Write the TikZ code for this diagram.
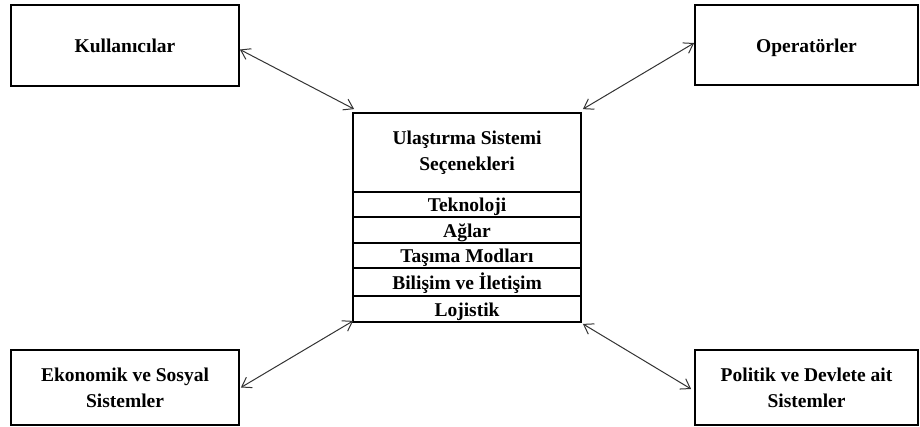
\documentclass[tikz,border=0pt]{standalone}
\usepackage{fontspec}
\setmainfont{Liberation Serif}
\usetikzlibrary{arrows.meta}
\tikzset{
  box/.style={draw=black, line width=1.8pt, fill=white, inner sep=0pt, align=center,
    font=\fontsize{19.5}{26}\selectfont\bfseries},
  oneline/.style={text height=14pt, text depth=0pt},
  twoline/.style={text height=40pt, text depth=0pt},
  conn/.style={draw=black!80, line width=1pt, {Straight Barb[length=9pt,width=12pt]}-{Straight Barb[length=9pt,width=12pt]}}
}
\begin{document}
\begin{tikzpicture}[x=1pt,y=-1pt]
\useasboundingbox (0,0) rectangle (920,426);
% outer boxes
\node[box, oneline, minimum width=228pt, minimum height=81pt] (kul) at (125,45.5) {Kullanıcılar};
\node[box, oneline, minimum width=223pt, minimum height=80pt] (ops) at (806.5,45) {Operatörler};
\node[box, twoline, minimum width=228pt, minimum height=75pt] (eko) at (125,387.5) {Ekonomik ve Sosyal\\Sistemler};
\node[box, twoline, minimum width=223pt, minimum height=75pt] (pol) at (806.5,387.5) {Politik ve Devlete ait\\Sistemler};
% central stack
\node[box, twoline, text depth=5pt, minimum width=228pt, minimum height=79pt] (title) at (467,152.5) {Ulaştırma Sistemi\\Seçenekleri};
\node[box, oneline, minimum width=228pt, minimum height=25pt] (tek) at (467,204.5) {Teknoloji};
\node[box, oneline, minimum width=228pt, minimum height=26pt] (agl) at (467,230) {Ağlar};
\node[box, oneline, minimum width=228pt, minimum height=25pt] (tas) at (467,255.5) {Taşıma Modları};
\node[box, oneline, minimum width=228pt, minimum height=28pt] (bil) at (467,282) {Bilişim ve İletişim};
\node[box, oneline, minimum width=228pt, minimum height=26pt] (loj) at (467,309) {Lojistik};
% connectors
\draw[conn] ([yshift=-4pt]kul.east) -- ([shift={(2pt,3pt)}]title.north west);
\draw[conn] ([yshift=2pt]ops.west) -- ([shift={(1pt,3pt)}]title.north east);
\draw[conn] ([xshift=1pt]eko.east) -- ([shift={(1pt,2pt)}]loj.south west);
\draw[conn] ([shift={(-3pt,-1.5pt)}]pol.west) -- ([shift={(1pt,-1pt)}]loj.south east);
\end{tikzpicture}
\end{document}
